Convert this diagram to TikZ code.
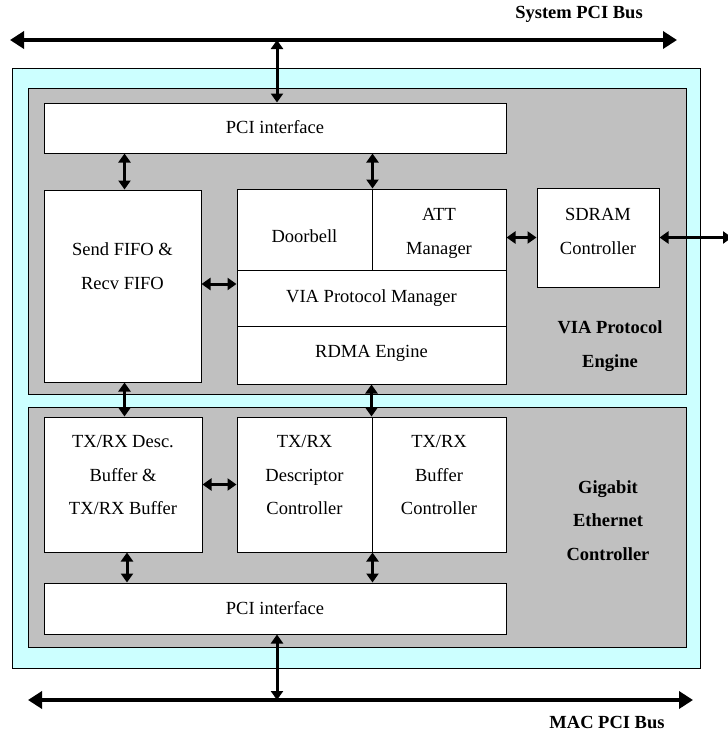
\documentclass[tikz,border=0pt]{standalone}
\usepackage{fontspec}
\setmainfont{Liberation Serif}
\usetikzlibrary{arrows.meta}

\definecolor{cyanclair}{RGB}{204,255,255}
\definecolor{grisbloc}{RGB}{192,192,192}

\tikzset{
  bloc/.style={draw, fill=white, line width=1pt, inner sep=0pt, align=center,
    font=\fontsize{18.5}{33.5}\selectfont, text depth=0pt},
  titre/.style={inner sep=0pt, align=center, font=\fontsize{18.5}{33.5}\selectfont\bfseries},
  bus/.style={line width=4.5pt, {Triangle[length=14pt,width=17pt]}-{Triangle[length=14pt,width=17pt]}},
  lien/.style={line width=3pt, {Triangle[length=9pt,width=12pt]}-{Triangle[length=9pt,width=12pt]}},
}

\begin{document}
\begin{tikzpicture}[x=1pt, y=-1pt]
  \fill[white] (0,0) rectangle (728,732);
  \useasboundingbox (0,0) rectangle (728,732);

  % Carte et fonds des deux moteurs
  \draw[fill=cyanclair, line width=1pt] (12,68) rectangle (700,668);
  \draw[fill=grisbloc, line width=1pt] (28,88) rectangle (686,394);
  \draw[fill=grisbloc, line width=1pt] (28,407) rectangle (686,647);

  % Bus PCI
  \coordinate (sysg) at (10,40);
  \coordinate (sysd) at (677,40);
  \coordinate (macg) at (28,700);
  \coordinate (macd) at (693,700);
  \node[titre, anchor=base] (syslbl) at (579,18) {System PCI Bus};
  \node[titre, anchor=base] (maclbl) at (607,728) {MAC PCI Bus};

  % Moteur VIA
  \node[bloc, minimum width=462pt, minimum height=50pt, text height=10pt] (pcihaut) at (275,128) {PCI interface};
  \node[bloc, minimum width=157pt, minimum height=192pt, text height=6pt] (fifo) at (122.5,286) {Send FIFO \&\\Recv FIFO};
  \node[bloc, minimum width=135pt, minimum height=81pt, text height=25pt] (doorbell) at (304.5,229.5) {Doorbell};
  \node[bloc, minimum width=134pt, minimum height=81pt, text height=49pt] (att) at (439,229.5) {ATT\\Manager};
  \node[bloc, minimum width=269pt, minimum height=56pt, text height=8pt] (viapm) at (371.5,298) {VIA Protocol Manager};
  \node[bloc, minimum width=269pt, minimum height=58pt, text height=4pt] (rdma) at (371.5,355) {RDMA Engine};
  \node[bloc, minimum width=122pt, minimum height=99pt, text height=33pt] (sdram) at (598,237.5) {SDRAM\\Controller};
  \coordinate (sdramext) at (732,237.5);
  \node[titre, anchor=base] (vialbl) at (610,367) {VIA Protocol\\Engine};

  % Controleur Gigabit Ethernet
  \node[bloc, minimum width=158pt, minimum height=135pt, text height=60pt] (desc) at (123,484.5) {TX/RX Desc.\\Buffer \&\\TX/RX Buffer};
  \node[bloc, minimum width=135pt, minimum height=135pt, text height=60pt] (descctl) at (304.5,484.5) {TX/RX\\Descriptor\\Controller};
  \node[bloc, minimum width=134pt, minimum height=135pt, text height=60pt] (bufctl) at (439,484.5) {TX/RX\\Buffer\\Controller};
  \node[bloc, minimum width=462pt, minimum height=51pt, text height=11pt] (pcibas) at (275,608.5) {PCI interface};
  \node[titre, anchor=base] (gelbl) at (608,560) {Gigabit\\Ethernet\\Controller};

  % Liaisons
  \draw[lien] ([xshift=2pt]pcihaut.north) -- ([xshift=2pt]pcihaut.north |- sysg);
  \draw[lien] ([xshift=2pt]pcibas.south) -- ([xshift=2pt]pcibas.south |- macg);
  \draw[bus] (sysg) -- (sysd);
  \draw[bus] (macg) -- (macd);
  \draw[lien] ([xshift=2pt]fifo.north) -- ([xshift=2pt]fifo.north |- pcihaut.south);
  \draw[lien] (doorbell.north east) -- (doorbell.north east |- pcihaut.south);
  \draw[lien] ([yshift=14pt]viapm.west) -- ([yshift=14pt]viapm.west -| fifo.east);
  \draw[lien] (sdram.west) -- (sdram.west -| att.east);
  \draw[lien] (sdram.east) -- (sdramext);
  \draw[lien] ([xshift=2pt]fifo.south) -- ([xshift=2pt]fifo.south |- desc.north);
  \draw[lien] (rdma.south) -- (rdma.south |- bufctl.north);
  \draw[lien] (desc.east) -- (descctl.west);
  \draw[lien] ([xshift=4pt]desc.south) -- ([xshift=4pt]desc.south |- pcibas.north);
  \draw[lien] (descctl.south east) -- (descctl.south east |- pcibas.north);
\end{tikzpicture}
\end{document}
